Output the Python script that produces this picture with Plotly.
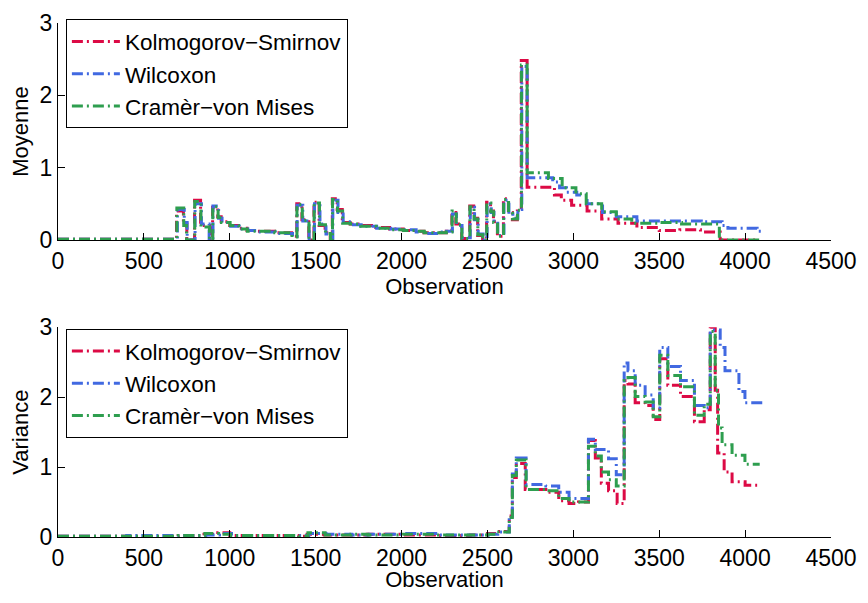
import plotly.graph_objects as go

# --- Moyenne (top panel), step breakpoints ---
ks_mean_x = [0, 690, 730, 750, 795, 830, 885, 900, 930, 950, 1000, 1050, 1100, 1160, 1260, 1360,
             1390, 1420, 1460, 1490, 1520, 1555, 1585, 1597, 1625, 1655, 1700, 1760, 1850, 1930,
             2010, 2080, 2130, 2220, 2260, 2293, 2316, 2350, 2397, 2420, 2443, 2472, 2495, 2518,
             2535, 2558, 2593, 2622, 2645, 2674, 2697, 2731, 2890, 2930, 2990, 3080, 3165, 3260,
             3370, 3500, 3620, 3740, 3855, 4080]
ks_mean_y = [0.01, 0.40, 0.22, 0.0, 0.55, 0.20, 0.0, 0.45, 0.32, 0.25, 0.20, 0.16, 0.13, 0.12, 0.10, 0.05,
             0.50, 0.28, 0.0, 0.52, 0.20, 0.10, 0.0, 0.57, 0.42, 0.24, 0.22, 0.20, 0.17, 0.15,
             0.13, 0.12, 0.10, 0.10, 0.12, 0.38, 0.22, 0.02, 0.47, 0.30, 0.06, 0.0, 0.52, 0.40,
             0.25, 0.05, 0.57, 0.38, 0.28, 0.40, 2.48, 0.73, 0.62, 0.55, 0.48, 0.40, 0.29, 0.23,
             0.17, 0.13, 0.14, 0.11, 0.0, 0.0]

wx_mean_x = [0, 695, 735, 752, 798, 835, 880, 902, 935, 955, 1005, 1055, 1105, 1165, 1265, 1365,
             1392, 1425, 1462, 1493, 1525, 1560, 1588, 1600, 1630, 1660, 1705, 1765, 1855, 1935,
             2015, 2085, 2135, 2225, 2262, 2296, 2320, 2352, 2400, 2425, 2446, 2475, 2498, 2522,
             2538, 2560, 2596, 2625, 2648, 2677, 2700, 2731, 2880, 2920, 2960, 3020, 3080, 3170,
             3250, 3370, 3500, 3620, 3745, 3866, 3900, 3970, 4070, 4100]
wx_mean_y = [0.01, 0.42, 0.24, 0.0, 0.50, 0.22, 0.0, 0.47, 0.30, 0.24, 0.19, 0.15, 0.13, 0.11, 0.09, 0.05,
             0.48, 0.26, 0.0, 0.50, 0.22, 0.08, 0.0, 0.55, 0.38, 0.25, 0.21, 0.19, 0.16, 0.15,
             0.14, 0.11, 0.09, 0.11, 0.12, 0.36, 0.20, 0.03, 0.45, 0.28, 0.08, 0.0, 0.50, 0.38,
             0.23, 0.06, 0.55, 0.36, 0.30, 0.42, 2.40, 0.86, 0.80, 0.72, 0.66, 0.62, 0.50, 0.38,
             0.32, 0.26, 0.26, 0.26, 0.25, 0.20, 0.16, 0.16, 0.12, 0.12]

cvm_mean_x = [0, 692, 732, 748, 796, 832, 882, 901, 932, 952, 1002, 1052, 1102, 1162, 1262, 1362,
              1391, 1422, 1461, 1491, 1522, 1557, 1586, 1598, 1627, 1657, 1702, 1762, 1852, 1932,
              2012, 2082, 2132, 2222, 2261, 2294, 2318, 2351, 2398, 2422, 2444, 2473, 2496, 2520,
              2536, 2559, 2594, 2623, 2646, 2675, 2698, 2731, 2855, 2935, 3015, 3075, 3165, 3250,
              3340, 3500, 3630, 3750, 3850, 4085]
cvm_mean_y = [0.01, 0.44, 0.20, 0.0, 0.53, 0.18, 0.0, 0.46, 0.31, 0.24, 0.20, 0.15, 0.12, 0.12, 0.10, 0.04,
              0.49, 0.27, 0.0, 0.51, 0.21, 0.09, 0.0, 0.56, 0.40, 0.23, 0.22, 0.19, 0.16, 0.14,
              0.13, 0.12, 0.10, 0.10, 0.11, 0.40, 0.21, 0.02, 0.46, 0.29, 0.07, 0.0, 0.51, 0.39,
              0.24, 0.05, 0.56, 0.37, 0.29, 0.41, 2.42, 0.93, 0.85, 0.72, 0.64, 0.50, 0.39, 0.29,
              0.23, 0.24, 0.22, 0.22, 0.0, 0.0]

# --- Variance (bottom panel) ---
ks_var_x = [0, 400, 700, 850, 930, 1000, 1400, 1450, 1550, 1700, 1800, 2000, 2200, 2400, 2500,
            2555, 2627, 2645, 2668, 2720, 2840, 2915, 2975, 3030, 3088, 3128, 3163, 3205, 3255,
            3296, 3318, 3360, 3418, 3465, 3503, 3550, 3624, 3705, 3762, 3797, 3826, 3840, 3878,
            3924, 4000, 4070]
ks_var_y = [0.01, 0.01, 0.02, 0.04, 0.06, 0.02, 0.01, 0.04, 0.03, 0.03, 0.04, 0.03, 0.02, 0.03, 0.05,
            0.08, 0.30, 0.85, 1.05, 0.68, 0.64, 0.52, 0.48, 0.50, 1.38, 1.13, 0.77, 0.66, 0.48,
            2.24, 2.19, 1.92, 1.88, 1.68, 2.55, 2.17, 2.01, 1.65, 1.82, 3.00, 2.10, 1.20, 0.93,
            0.79, 0.74, 0.74]

wx_var_x = [0, 400, 700, 860, 940, 1010, 1400, 1460, 1560, 1710, 1810, 2010, 2210, 2410, 2505,
            2560, 2627, 2645, 2668, 2725, 2840, 2915, 2975, 3088, 3128, 3205, 3250, 3296, 3318,
            3360, 3418, 3465, 3503, 3550, 3624, 3705, 3762, 3797, 3855, 3883, 3964, 3999, 4100]
wx_var_y = [0.01, 0.02, 0.02, 0.03, 0.05, 0.02, 0.02, 0.05, 0.04, 0.03, 0.04, 0.05, 0.03, 0.03, 0.04,
            0.07, 0.30, 0.90, 1.13, 0.75, 0.73, 0.64, 0.55, 1.40, 1.25, 1.12, 0.89, 2.49, 2.38,
            2.17, 2.03, 1.85, 2.71, 2.44, 2.24, 1.88, 1.85, 2.96, 2.71, 2.38, 2.08, 1.92, 1.92]

cvm_var_x = [0, 400, 700, 855, 935, 1005, 1400, 1455, 1555, 1705, 1805, 2005, 2205, 2405, 2502,
             2557, 2627, 2645, 2668, 2725, 2840, 2915, 2975, 3088, 3128, 3163, 3205, 3250, 3296,
             3318, 3360, 3418, 3465, 3503, 3550, 3624, 3705, 3762, 3797, 3826, 3845, 3866, 3924,
             3999, 4085]
cvm_var_y = [0.01, 0.01, 0.02, 0.05, 0.04, 0.02, 0.01, 0.06, 0.03, 0.04, 0.03, 0.04, 0.03, 0.03, 0.04,
             0.07, 0.28, 0.88, 1.10, 0.68, 0.66, 0.55, 0.50, 1.30, 1.16, 0.93, 0.82, 0.73, 2.24,
             2.28, 2.01, 1.93, 1.72, 2.60, 2.31, 2.15, 1.74, 1.90, 2.94, 2.10, 1.56, 1.32, 1.17,
             1.04, 1.04]

names = ["Kolmogorov\u2212Smirnov", "Wilcoxon", "Cram\u00e8r\u2212von Mises"]
colors = ["#DC0A45", "#4169E1", "#2E9E4F"]

top = [(ks_mean_x, ks_mean_y), (wx_mean_x, wx_mean_y), (cvm_mean_x, cvm_mean_y)]
bottom = [(ks_var_x, ks_var_y), (wx_var_x, wx_var_y), (cvm_var_x, cvm_var_y)]

fig = go.Figure()
dash = "11px,4px,2px,4px"
for (x, y), name, c in zip(top, names, colors):
    fig.add_trace(go.Scatter(x=x, y=y, name=name, mode="lines", line_shape="hv",
                             line=dict(color=c, width=3, dash=dash),
                             xaxis="x", yaxis="y", legend="legend"))
for (x, y), name, c in zip(bottom, names, colors):
    fig.add_trace(go.Scatter(x=x, y=y, name=name, mode="lines", line_shape="hv",
                             line=dict(color=c, width=3, dash=dash),
                             xaxis="x2", yaxis="y2", legend="legend2"))

fs = 23
axis_common = dict(showline=True, linecolor="black", linewidth=1, mirror=False,
                   ticks="inside", ticklen=7, tickcolor="black", showgrid=False,
                   zeroline=False, tickfont=dict(size=fs), automargin=False,
                   ticklabeloverflow="allow")
xtitle = dict(text="Observation", font=dict(size=22), standoff=4)
leg = dict(x=0.0102, xanchor="left", yanchor="top", bordercolor="black", borderwidth=1,
           bgcolor="white", font=dict(size=22.5), itemwidth=48)

# page body adds an 8px margin, so the figure is kept inside the window
fig.update_layout(
    width=860, height=584,
    margin=dict(l=50, r=37, t=14, b=55),
    plot_bgcolor="white", paper_bgcolor="white",
    font=dict(family="Liberation Sans, Arial, sans-serif", size=fs, color="black"),
    xaxis=dict(axis_common, range=[0, 4500], dtick=500, domain=[0, 1], anchor="y", title=xtitle),
    yaxis=dict(axis_common, range=[0, 3], dtick=1, domain=[0.578, 1], anchor="x",
               title=dict(text="Moyenne", font=dict(size=22), standoff=8)),
    xaxis2=dict(axis_common, range=[0, 4500], dtick=500, domain=[0, 1], anchor="y2", title=xtitle),
    yaxis2=dict(axis_common, range=[0, 3], dtick=1, domain=[0, 0.408], anchor="x2",
                title=dict(text="Variance", font=dict(size=22), standoff=8)),
    legend=dict(leg, y=1.0049),
    legend2=dict(leg, y=0.404),
)

fig.write_html("out.html")
